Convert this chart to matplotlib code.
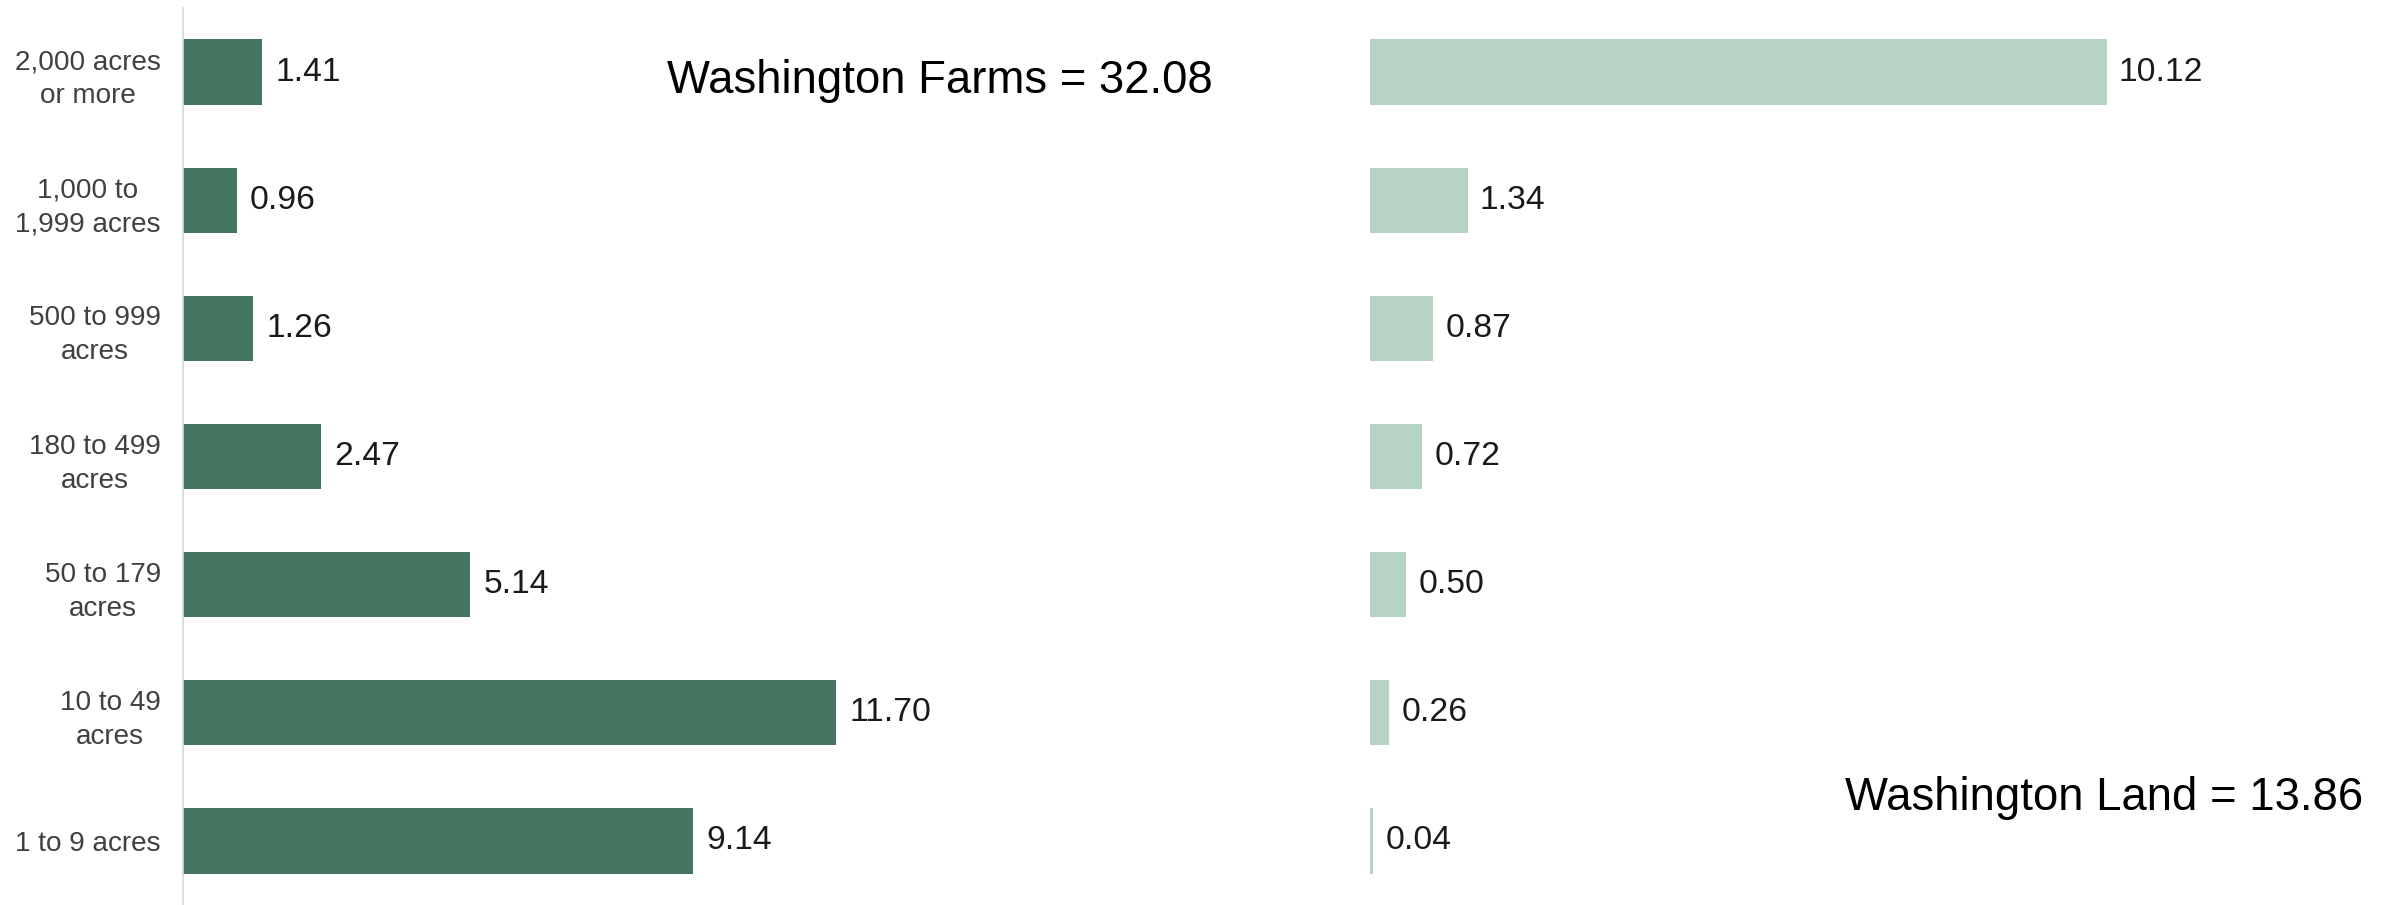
import matplotlib
matplotlib.use("Agg")
import matplotlib.pyplot as plt
from matplotlib import font_manager as fm

# data (top to bottom)
categories = ["2,000 acres\nor more", "1,000 to\n1,999 acres", "500 to 999\nacres",
              "180 to 499\nacres", "50 to 179\nacres", "10 to 49\nacres", "1 to 9 acres"]
farms = [1.41, 0.96, 1.26, 2.47, 5.14, 11.70, 9.14]
land = [10.12, 1.34, 0.87, 0.72, 0.50, 0.26, 0.04]
farms_total = 32.08
land_total = 13.86

dark_green = "#437561"
light_green = "#b7d3c4"

# Arial Narrow look-alike if we have it, else plain sans squeezed by size
names = {f.name for f in fm.fontManager.ttflist}
if "Liberation Sans Narrow" in names:
    font = "Liberation Sans Narrow"
    k = 1.0
else:
    font = "Liberation Sans"
    k = 0.82
plt.rcParams["font.family"] = [font, "DejaVu Sans"]

W, H = 2389, 905
fig = plt.figure(figsize=(W / 100, H / 100), dpi=100)

ax1 = fig.add_axes([183 / W, 0, 1116 / W, 897 / H])
ax2 = fig.add_axes([1370 / W, 0, 1019 / W, 897 / H])

ypos = list(range(len(categories)))

ax1.barh(ypos, farms, height=0.51, color=dark_green)
ax2.barh(ypos, land, height=0.51, color=light_green)

for ax, vals, lim in [(ax1, farms, 20), (ax2, land, 14)]:
    ax.set_xlim(0, lim)
    ax.set_ylim(6.5, -0.5)
    ax.set_xticks([])
    for s in ["top", "right", "bottom"]:
        ax.spines[s].set_visible(False)
    for y, v in zip(ypos, vals):
        ax.text(v + lim * 0.012, y, f"{v:.2f}", va="center", ha="left",
                fontsize=29.5 * k, color="#1a1a1a")

ax1.spines["left"].set_color("#d9d9d9")
ax1.spines["left"].set_linewidth(1.2)
ax1.set_yticks(ypos)
ax1.set_yticklabels(categories, fontsize=24.5 * k, color="#404040",
                    multialignment="center", linespacing=1.4)
ax1.tick_params(axis="y", length=0, pad=16)

ax2.spines["left"].set_visible(False)
ax2.set_yticks([])

fig.text(940 / W, 1 - 81 / H, f"Washington Farms = {farms_total:.2f}",
         ha="center", va="center", fontsize=40 * k)
fig.text(2363 / W, 1 - 798 / H, f"Washington Land = {land_total:.2f}",
         ha="right", va="center", fontsize=40 * k)

fig.savefig("out.png", dpi=100)
